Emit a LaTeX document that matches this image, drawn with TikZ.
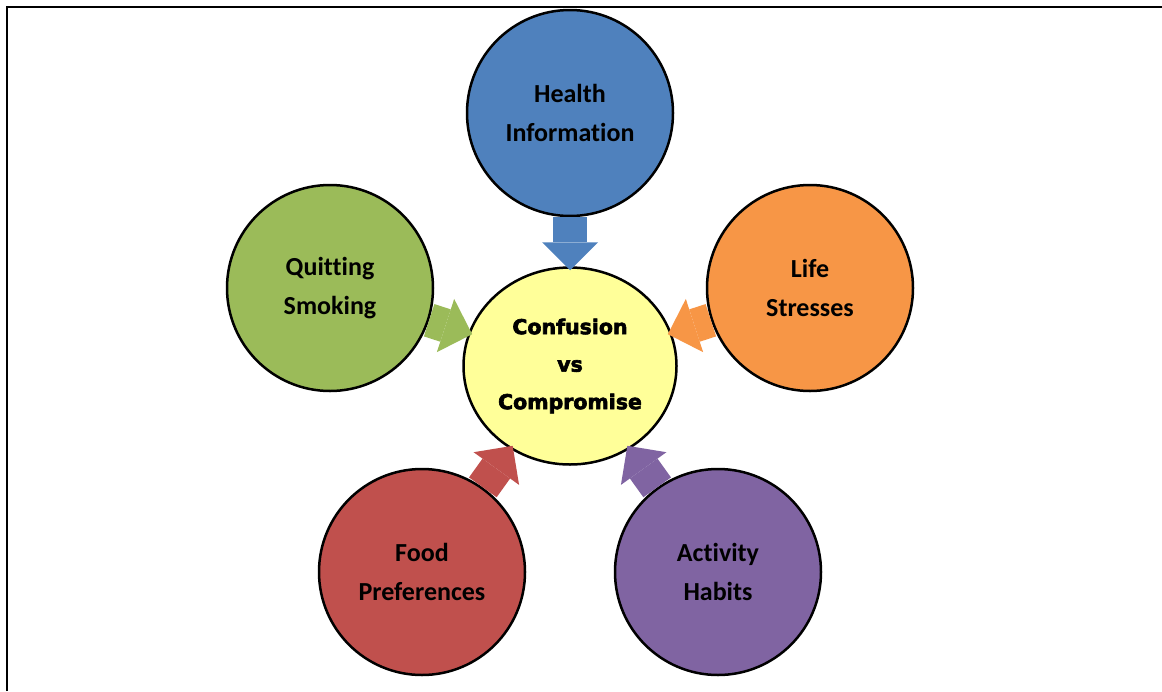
\documentclass[tikz,border=0pt]{standalone}
\usepackage{fontspec}
\setmainfont[Ligatures=NoCommon]{Carlito}
\newfontfamily\heavyfont[BoldFeatures={FakeBold=3}]{DejaVu Sans}
\usetikzlibrary{arrows.meta,shapes.geometric}
\definecolor{hblue}{HTML}{4F81BD}
\definecolor{qgreen}{HTML}{9BBB59}
\definecolor{lorange}{HTML}{F79646}
\definecolor{fred}{HTML}{C0504D}
\definecolor{apurple}{HTML}{8064A2}
\definecolor{cyellow}{HTML}{FFFF99}
\begin{document}
\begin{tikzpicture}[x=1pt,y=-1pt,
  topic/.style={circle, draw, line width=2.5pt, minimum size=206pt, inner sep=0pt, align=center, font=\bfseries\fontsize{26}{39.5}\selectfont},
  hub/.style={ellipse, draw, line width=2.5pt, fill=cyellow, minimum width=213pt, minimum height=197pt, inner sep=0pt, align=center, font=\heavyfont\bfseries\fontsize{20.5}{37.5}\selectfont},
  feed/.style={draw=#1, line width=34pt, shorten >=-4pt, -{Triangle[length=28pt,width=56pt,line width=0pt]}}]
\useasboundingbox (0,0) rectangle (1162,691);
\draw[line width=2.4pt] (7,691) -- (7,7) -- (1162,7);
\node[hub] (cvc) at (570,366) {Confusion\\vs\\Compromise};
\node[topic, fill=hblue] (health) at (570,113) {Health\\Information};
\node[topic, fill=qgreen] (smoke) at (330,288) {Quitting\\Smoking};
\node[topic, fill=lorange] (stress) at (810,288) {Life\\Stresses};
\node[topic, fill=fred] (food) at (422,572) {Food\\Preferences};
\node[topic, fill=apurple] (habit) at (718,572) {Activity\\Habits};
\draw[feed=hblue] (health) -- (cvc);
\draw[feed=qgreen] (smoke) -- (cvc);
\draw[feed=lorange] (stress) -- (cvc);
\draw[feed=fred] (food) -- (cvc);
\draw[feed=apurple] (habit) -- (cvc);
\end{tikzpicture}
\end{document}
